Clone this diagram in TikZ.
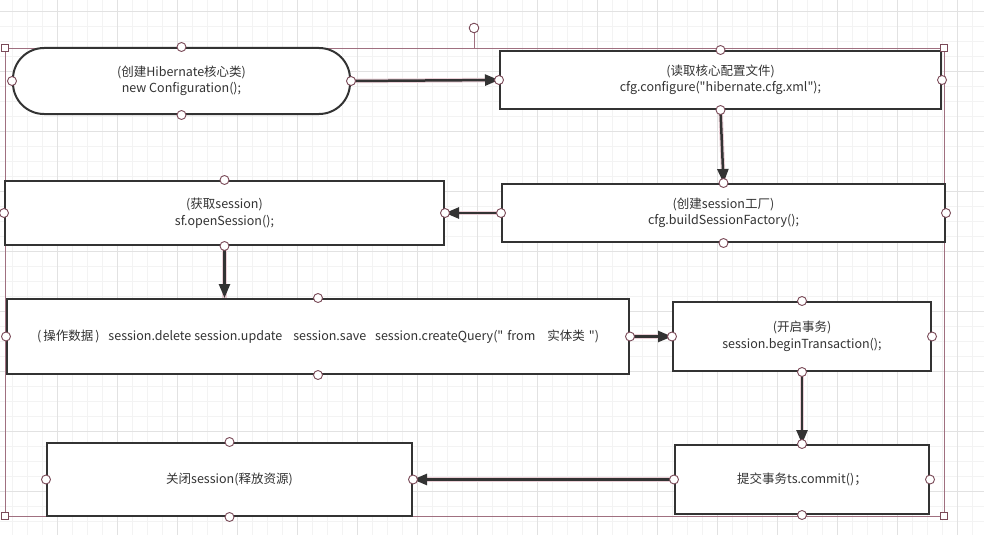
\documentclass[tikz,border=0pt]{standalone}
\usepackage{fontspec}
\setmainfont{Noto Sans CJK SC}[Ligatures=TeXOff]
\usetikzlibrary{arrows.meta}
\definecolor{txt}{HTML}{333333}
\definecolor{edge}{HTML}{333333}
\definecolor{selc}{HTML}{A07080}
\definecolor{hdl}{HTML}{7A4A58}
\definecolor{glowc}{HTML}{EBD0D7}
\definecolor{gminor}{HTML}{F3F3F3}
\definecolor{gmajor}{HTML}{E2E2E2}
\tikzset{
  box/.style={draw=edge, line width=2pt, fill=white, text=txt, align=center, inner sep=0pt,
    font=\fontsize{12.5}{16.5}\selectfont},
  roundbox/.style={box, rounded corners=31pt},
  conn/.style={draw=edge, line width=2.5pt, -{Triangle[length=14pt,width=11pt]}},
  glow/.style={draw=glowc, line width=4.5pt},
  hnd/.style={draw=hdl, fill=white, line width=0.9pt},
  sel/.style={draw=selc, line width=0.7pt},
}
\newcommand\myconn[1]{\draw[glow] #1; \draw[conn] #1;}
\begin{document}
\begin{tikzpicture}[x=1pt,y=-1pt]
\useasboundingbox (0,0) rectangle (984,535);
\fill[white] (0,0) rectangle (984,535);
% grid
\foreach \x in {-3,12,...,984} \draw[gminor, line width=0.8pt] (\x,0) -- (\x,535);
\foreach \y in {11,26,...,535} \draw[gminor, line width=0.8pt] (0,\y) -- (984,\y);
\foreach \x in {-3,57,...,984} \draw[gmajor, line width=0.9pt] (\x,0) -- (\x,535);
\foreach \y in {11,71,...,535} \draw[gmajor, line width=0.9pt] (0,\y) -- (984,\y);
% selection frame
\draw[sel] (5,48) rectangle (944,516);
\coordinate (rotbase) at (474,48);
\coordinate (rottop) at (474,33);
\draw[sel] (rotbase) -- (rottop);
% nodes
\node[roundbox, minimum width=337pt, minimum height=66pt] (n1) at (181.5,81)
  {(创建Hibernate核心类)\\new Configuration();};
\node[box, minimum width=441pt, minimum height=58pt] (n2) at (720.5,80)
  {(读取核心配置文件)\\cfg.configure("hibernate.cfg.xml");};
\node[box, minimum width=439pt, minimum height=64pt] (n3) at (224.5,213)
  {(获取session)\\sf.openSession();};
\node[box, minimum width=443pt, minimum height=58pt] (n4) at (723.5,213)
  {(创建session工厂)\\cfg.buildSessionFactory();};
\node[box, minimum width=622pt, minimum height=75pt] (n5) at (318,336.5)
  {(\hspace{2pt}操作数据\hspace{2pt})\hspace{9pt}session.delete\hspace{3pt}session.update\hspace{11pt}session.save\hspace{9pt}session.createQuery("\hspace{4pt}from\hspace{12pt}实体类\hspace{4pt}")};
\node[box, minimum width=258pt, minimum height=69pt] (n6) at (802,336.5)
  {(开启事务)\\session.beginTransaction();};
\node[box, minimum width=365pt, minimum height=73pt] (n7) at (229.5,479.5)
  {关闭session(释放资源)};
\node[box, minimum width=254pt, minimum height=69pt] (n8) at (802,479.5)
  {提交事务ts.commit()；};
% connectors
\coordinate (a4end) at (n3.south |- n5.north);
\myconn{(n1.east) -- (n2.west)}
\myconn{(n2.south) -- (n4.north)}
\myconn{(n4.west) -- (n3.east)}
\myconn{(n3.south) -- (a4end)}
\myconn{(n5.east) -- (n6.west)}
\myconn{(n6.south) -- (n8.north)}
\myconn{(n8.west) -- (n7.east)}
% handles
\foreach \n in {n1,n2,n3,n4,n5,n6,n7,n8}
  \foreach \a in {north,south,east,west}
    \draw[hnd] (\n.\a) circle (4.5pt);
\draw[hnd] (474,28) circle (4.8pt);
% corner squares
\foreach \c in {(5,48),(944,48),(5,516),(944,516)}
  \draw[hnd, line width=0.8pt] \c ++(-3.5,-3.5) rectangle ++(7,7);
\end{tikzpicture}
\end{document}
